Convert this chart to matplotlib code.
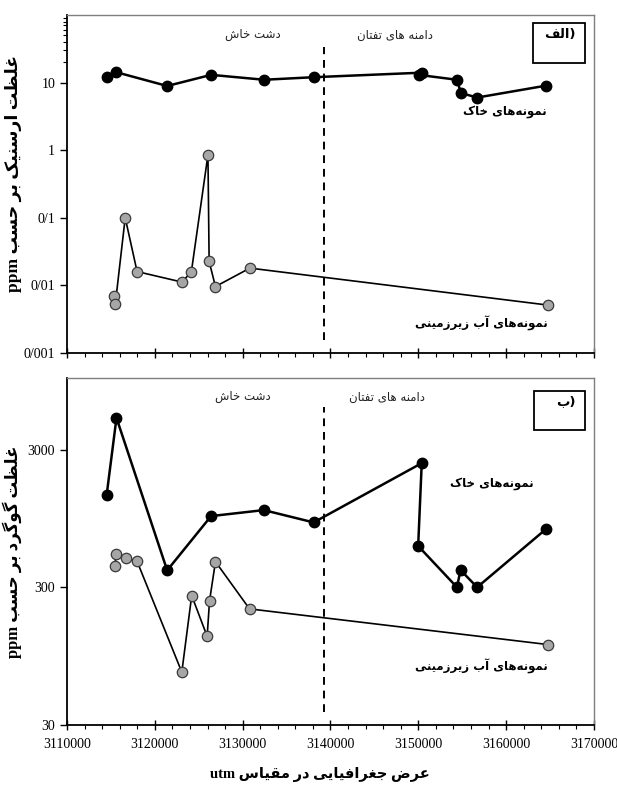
import matplotlib
matplotlib.use('Agg')
import matplotlib.pyplot as plt
from matplotlib.ticker import FixedLocator, NullFormatter

# --- data: arsenic (panel a) ---
as_soil_x = [3114508, 3115635, 3121405, 3126409, 3132450, 3138085, 3150392, 3150031, 3154404, 3154855, 3156703, 3164547]
as_soil_y = [12.0, 14.2, 8.9, 13.0, 11.0, 12.0, 14.0, 13.0, 11.0, 7.0, 6.0, 9.0]
as_water_x = [3115319, 3115500, 3116627, 3117979, 3123073, 3124155, 3126048, 3126184, 3126905, 3130827, 3164817]
as_water_y = [0.0069, 0.0053, 0.10, 0.016, 0.0112, 0.0157, 0.85, 0.0226, 0.0096, 0.018, 0.0051]

# --- data: sulfur (panel b) ---
s_soil_x = [3114508, 3115635, 3121405, 3126409, 3132405, 3138085, 3150392, 3149986, 3154404, 3154810, 3156703, 3164547]
s_soil_y = [1393, 5090, 398, 986, 1090, 887, 2390, 598, 300, 400, 300, 794]
s_water_x = [3115500, 3115545, 3116672, 3117979, 3123073, 3124200, 3125958, 3126229, 3126905, 3130782, 3164817]
s_water_y = [431, 526, 489, 463, 72.6, 261, 132, 239, 460, 209, 115]

boundary_x = 3139212
x_ticks = [3110000, 3120000, 3130000, 3140000, 3150000, 3160000, 3170000]
as_ticks = [0.001, 0.01, 0.1, 1, 10]
as_tick_labels = ['0/001', '0/01', '0/1', '1', '10']
s_ticks = [30, 300, 3000]
s_tick_labels = ['30', '300', '3000']

# minimal Persian shaping (matplotlib does not join Arabic letters)
FORMS = {
    'ا': '\uFE8D\uFE8E', 'آ': '\uFE81\uFE82', 'د': '\uFEA9\uFEAA', 'ذ': '\uFEAB\uFEAC',
    'ر': '\uFEAD\uFEAE', 'ز': '\uFEAF\uFEB0', 'ژ': '\uFB8A\uFB8B', 'و': '\uFEED\uFEEE',
    'ب': '\uFE8F\uFE90\uFE91\uFE92', 'پ': '\uFB56\uFB57\uFB58\uFB59', 'ت': '\uFE95\uFE96\uFE97\uFE98',
    'ج': '\uFE9D\uFE9E\uFE9F\uFEA0', 'ح': '\uFEA1\uFEA2\uFEA3\uFEA4', 'خ': '\uFEA5\uFEA6\uFEA7\uFEA8',
    'س': '\uFEB1\uFEB2\uFEB3\uFEB4', 'ش': '\uFEB5\uFEB6\uFEB7\uFEB8', 'ض': '\uFEBD\uFEBE\uFEBF\uFEC0',
    'ظ': '\uFEC5\uFEC6\uFEC7\uFEC8', 'ع': '\uFEC9\uFECA\uFECB\uFECC', 'غ': '\uFECD\uFECE\uFECF\uFED0',
    'ف': '\uFED1\uFED2\uFED3\uFED4', 'ق': '\uFED5\uFED6\uFED7\uFED8', 'ک': '\uFB8E\uFB8F\uFB90\uFB91',
    'گ': '\uFB92\uFB93\uFB94\uFB95', 'ل': '\uFEDD\uFEDE\uFEDF\uFEE0', 'م': '\uFEE1\uFEE2\uFEE3\uFEE4',
    'ن': '\uFEE5\uFEE6\uFEE7\uFEE8', 'ه': '\uFEE9\uFEEA\uFEEB\uFEEC', 'ی': '\uFBFC\uFBFD\uFBFE\uFBFF',
}


def rtl(text):
    out = []
    for i, c in enumerate(text):
        if c not in FORMS:
            out.append(c)
            continue
        prev = text[i - 1] if i > 0 else None
        nxt = text[i + 1] if i + 1 < len(text) else None
        f = FORMS[c]
        jp = prev in FORMS and len(FORMS[prev]) == 4
        jn = len(f) == 4 and nxt in FORMS
        if jp and jn:
            out.append(f[3])
        elif jp:
            out.append(f[1])
        elif jn:
            out.append(f[2])
        else:
            out.append(f[0])
    return ''.join(out).replace('\u200c', '')[::-1]


SERIF = ['Liberation Serif', 'DejaVu Sans']
FA = ['DejaVu Sans']

fig = plt.figure(figsize=(6.17, 7.87), dpi=100)
ax1 = fig.add_axes([0.1086, 0.5515, 0.854, 0.4295])
ax2 = fig.add_axes([0.1086, 0.0788, 0.854, 0.4415])


def style_axes(ax, ticks, labels, ylim):
    ax.set_yscale('log')
    ax.set_xlim(3110000, 3170000)
    ax.set_ylim(*ylim)
    ax.xaxis.set_major_locator(FixedLocator(x_ticks))
    ax.xaxis.set_minor_locator(FixedLocator(list(range(3110000, 3170001, 2000))))
    ax.yaxis.set_major_locator(FixedLocator(ticks))
    ax.yaxis.set_minor_locator(FixedLocator([]))
    ax.yaxis.set_minor_formatter(NullFormatter())
    ax.set_yticklabels(labels, family=SERIF, fontsize=10)
    ax.tick_params(axis='x', which='major', direction='inout', length=7, width=1)
    ax.tick_params(axis='x', which='minor', direction='out', length=3, width=0.8)
    ax.tick_params(axis='y', which='major', direction='out', length=5, width=1)
    ax.tick_params(axis='y', which='minor', direction='out', length=3, width=0.8)
    for s in ['top', 'right']:
        ax.spines[s].set_color('#7f7f7f')
        ax.spines[s].set_linewidth(1.0)
    for s in ['left', 'bottom']:
        ax.spines[s].set_color('black')
        ax.spines[s].set_linewidth(1.3)


def draw_panel(ax, soil_x, soil_y, water_x, water_y, txt, box, tag):
    ax.plot(soil_x, soil_y, color='black', lw=1.8, marker='o', ms=7.5,
            mfc='black', mec='black', zorder=3)
    ax.plot(water_x, water_y, color='black', lw=1.2, marker='o', ms=7.5,
            mfc='#a6a6a6', mec='#3a3a3a', mew=0.9, zorder=3)
    ax.plot([boundary_x, boundary_x], txt['dash'], transform=ax.get_xaxis_transform(),
            color='black', lw=1.4, ls=(0, (4, 3)), zorder=2)
    ax.text(txt['khash'][0], txt['khash'][1], rtl('دشت خاش'), transform=ax.transAxes,
            ha='center', va='center', fontsize=8.5, family=FA, color='#222222')
    ax.text(txt['taftan'][0], txt['taftan'][1], rtl('دامنه های تفتان'), transform=ax.transAxes,
            ha='center', va='center', fontsize=8.5, family=FA, color='#222222')
    ax.text(txt['soil'][0], txt['soil'][1], rtl('نمونه\u200cهای خاک'), transform=ax.transAxes,
            ha='center', va='center', fontsize=8.5, family=FA, fontweight='bold')
    ax.text(txt['water'][0], txt['water'][1], rtl('نمونه\u200cهای آب زیرزمینی'), transform=ax.transAxes,
            ha='center', va='center', fontsize=8.5, family=FA, fontweight='bold')
    rect = plt.Rectangle((box[0], box[1]), box[2], box[3], transform=ax.transAxes,
                         fill=False, ec='black', lw=1.3, zorder=4)
    ax.add_patch(rect)
    ax.text(box[0] + box[2] - 0.018, box[1] + box[3] * 0.72, rtl(tag) + ')', transform=ax.transAxes,
            ha='right', va='center', fontsize=9.5, family=FA, fontweight='bold')


style_axes(ax1, as_ticks, as_tick_labels, (0.001, 100))
ax1.yaxis.set_minor_locator(FixedLocator([20, 30, 40, 50, 60, 70, 80, 90]))
ax1.tick_params(axis='x', which='both', labelbottom=False)
draw_panel(ax1, as_soil_x, as_soil_y, as_water_x, as_water_y,
           {'dash': (0.037, 0.906), 'khash': (0.352, 0.941), 'taftan': (0.622, 0.941),
            'soil': (0.831, 0.715), 'water': (0.786, 0.086)},
           (0.885, 0.859, 0.099, 0.116), 'الف')
ax1.set_ylabel('ppm ' + rtl('غلظت ارسنیک بر حسب'), family=SERIF, fontweight='bold', fontsize=12.5)
ax1.yaxis.set_label_coords(-0.085, 0.53)

style_axes(ax2, s_ticks, s_tick_labels, (30, 10000))
ax2.set_xticklabels([str(t) for t in x_ticks], family=SERIF, fontsize=10)
ax2.tick_params(axis='x', which='major', pad=6)
draw_panel(ax2, s_soil_x, s_soil_y, s_water_x, s_water_y,
           {'dash': (0.036, 0.914), 'khash': (0.333, 0.944), 'taftan': (0.607, 0.944),
            'soil': (0.806, 0.694), 'water': (0.786, 0.169)},
           (0.887, 0.849, 0.096, 0.113), 'ب')
ax2.set_ylabel('ppm ' + rtl('غلظت گوگرد بر حسب'), family=SERIF, fontweight='bold', fontsize=12)
ax2.yaxis.set_label_coords(-0.085, 0.5)
ax2.set_xlabel('utm ' + rtl('عرض جغرافیایی در مقیاس'), family=SERIF, fontweight='bold',
               fontsize=10.5)
ax2.xaxis.set_label_coords(0.48, -0.12)

fig.savefig('out.png', dpi=100)
